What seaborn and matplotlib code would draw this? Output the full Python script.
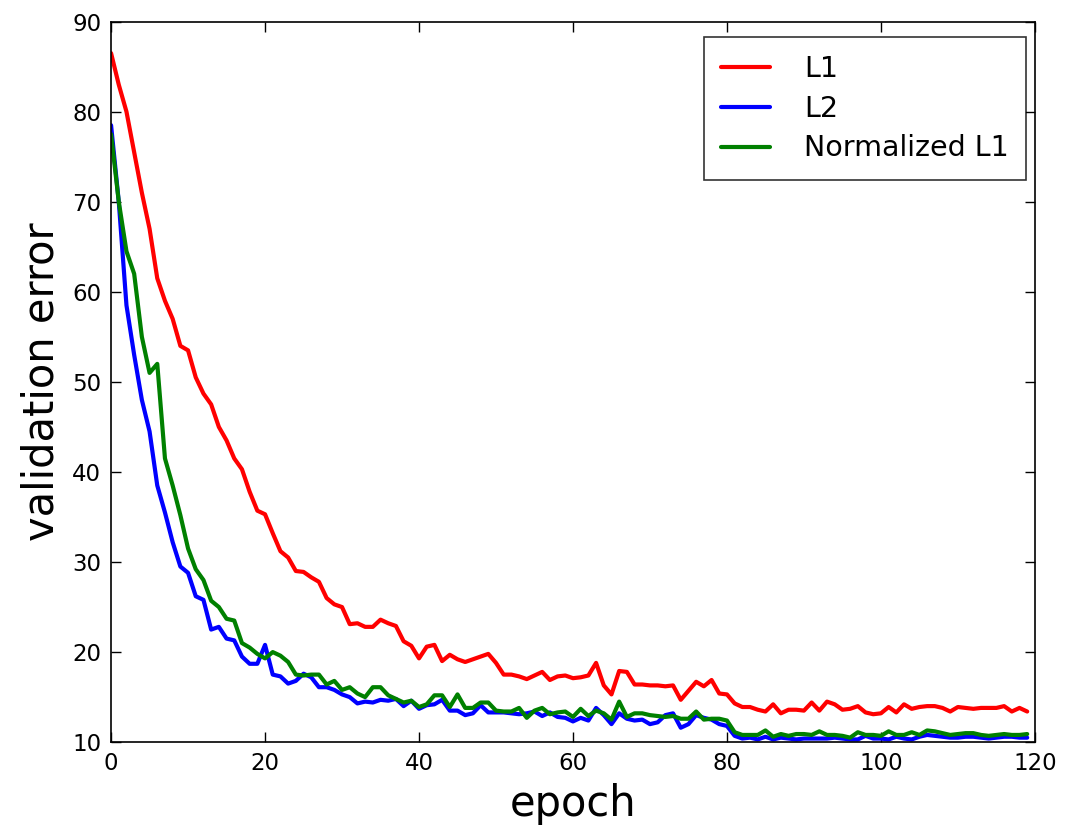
import numpy as np
import pandas as pd
import matplotlib
matplotlib.use('Agg')
import matplotlib.pyplot as plt
import seaborn as sns

l1 = [86.5, 83, 80, 75.5, 71, 67, 61.5, 59, 57, 54, 53.5, 50.5, 48.7, 47.5, 45, 43.5, 41.5, 40.3, 37.8, 35.7,
      35.3, 33.2, 31.2, 30.5, 29, 28.9, 28.3, 27.8, 26, 25.3, 25, 23.1, 23.2, 22.8, 22.8, 23.6, 23.2, 22.9, 21.2, 20.7,
      19.3, 20.6, 20.8, 19, 19.7, 19.2, 18.9, 19.2, 19.5, 19.8, 18.8, 17.5, 17.5, 17.3, 17.0, 17.4, 17.8, 16.9, 17.3, 17.4,
      17.1, 17.2, 17.4, 18.8, 16.3, 15.3, 17.9, 17.8, 16.4, 16.4, 16.3, 16.3, 16.2, 16.3, 14.7, 15.7, 16.7, 16.2, 16.9, 15.4,
      15.3, 14.3, 13.9, 13.9, 13.6, 13.4, 14.2, 13.2, 13.6, 13.6, 13.5, 14.4, 13.5, 14.5, 14.2, 13.6, 13.7, 14.0, 13.3, 13.1,
      13.2, 13.9, 13.3, 14.2, 13.7, 13.9, 14.0, 14.0, 13.8, 13.4, 13.9, 13.8, 13.7, 13.8, 13.8, 13.8, 14.0, 13.4, 13.8, 13.4]

l2 = [78.5, 70, 58.5, 53, 48, 44.5, 38.5, 35.5, 32.2, 29.5, 28.8, 26.2, 25.8, 22.5, 22.8, 21.5, 21.3, 19.5, 18.7, 18.7,
      20.8, 17.5, 17.3, 16.5, 16.8, 17.6, 17.2, 16.1, 16.1, 15.8, 15.3, 15.0, 14.3, 14.5, 14.4, 14.7, 14.6, 14.8, 14.0, 14.6,
      13.7, 14.1, 14.2, 14.7, 13.5, 13.5, 13.0, 13.2, 14.1, 13.3, 13.3, 13.3, 13.2, 13.1, 13.2, 13.4, 12.9, 13.3, 12.8, 12.7,
      12.3, 12.7, 12.4, 13.8, 13.0, 12.0, 13.2, 12.6, 12.4, 12.5, 12.0, 12.2, 13.0, 13.2, 11.6, 12.0, 13.0, 12.7, 12.5, 12.0,
      11.8, 10.7, 10.4, 10.5, 10.3, 10.6, 10.3, 10.5, 10.4, 10.3, 10.4, 10.4, 10.4, 10.4, 10.5, 10.4, 10.3, 10.3, 10.7, 10.4,
      10.4, 10.3, 10.6, 10.4, 10.3, 10.6, 10.8, 10.7, 10.6, 10.5, 10.5, 10.6, 10.6, 10.5, 10.4, 10.5, 10.6, 10.6, 10.5, 10.5]

norm_l1 = [77.5, 70, 64.5, 62, 55, 51, 52, 41.5, 38.5, 35.2, 31.5, 29.2, 28, 25.7, 25, 23.7, 23.5, 21, 20.5, 19.8,
           19.3, 20, 19.6, 18.9, 17.5, 17.4, 17.5, 17.5, 16.4, 16.8, 15.8, 16.1, 15.4, 15.0, 16.1, 16.1, 15.2, 14.8, 14.4, 14.6,
           13.9, 14.2, 15.2, 15.2, 13.9, 15.3, 13.8, 13.8, 14.4, 14.4, 13.5, 13.4, 13.4, 13.8, 12.7, 13.5, 13.8, 13.1, 13.3, 13.4,
           12.8, 13.7, 12.9, 13.5, 13.2, 12.5, 14.5, 12.8, 13.2, 13.2, 13.0, 12.9, 12.8, 12.9, 12.6, 12.6, 13.4, 12.5, 12.6, 12.6,
           12.4, 11.1, 10.8, 10.8, 10.8, 11.3, 10.6, 10.9, 10.7, 10.9, 10.9, 10.8, 11.2, 10.8, 10.8, 10.7, 10.5, 11.1, 10.8, 10.8,
           10.7, 11.2, 10.8, 10.8, 11.1, 10.8, 11.3, 11.2, 11.0, 10.8, 10.9, 11.0, 11.0, 10.8, 10.7, 10.8, 10.9, 10.8, 10.8, 10.9]

epochs = np.arange(len(l1))
names = ['L1', 'L2', 'Normalized L1']

df = pd.DataFrame({
    'epoch': np.concatenate([epochs] * 3),
    'error': l1 + l2 + norm_l1,
    'loss': np.repeat(names, len(epochs)),
})

sns.set_style('ticks')
plt.rcParams['font.family'] = ['DejaVu Sans']
plt.rcParams['text.color'] = 'black'
plt.rcParams['axes.labelcolor'] = 'black'
plt.rcParams['xtick.color'] = 'black'
plt.rcParams['ytick.color'] = 'black'

fig = plt.figure(figsize=(10.68, 8.32), dpi=100)
ax = fig.add_axes([0.104, 0.108, 0.865, 0.866])
sns.lineplot(data=df, x='epoch', y='error', hue='loss', hue_order=names,
             palette={'L1': '#ff0000', 'L2': '#0000ff', 'Normalized L1': '#008000'},
             linewidth=3, ax=ax)

ax.set_xlim(0, 120)
ax.set_ylim(10, 90)
ax.set_xticks(range(0, 121, 20))
ax.set_yticks(range(10, 91, 10))
ax.tick_params(direction='in', top=True, right=True, length=7, width=1, labelsize=16.5, pad=7)
for s in ax.spines.values():
    s.set_linewidth(1.2)
    s.set_color('black')
ax.set_xlabel('epoch', fontsize=30, labelpad=6)
ax.set_ylabel('validation error', fontsize=30, labelpad=7)

leg = ax.legend(loc='upper right', bbox_to_anchor=(0.990, 0.978), borderaxespad=0,
                fontsize=20.5, fancybox=False, frameon=True,
                handlelength=1.7, borderpad=0.6, labelspacing=0.42, handletextpad=1.2)
leg.get_frame().set_edgecolor('black')
leg.get_frame().set_linewidth(1.2)
for line in leg.get_lines():
    line.set_linewidth(3)

fig.savefig('out.png', dpi=100)
